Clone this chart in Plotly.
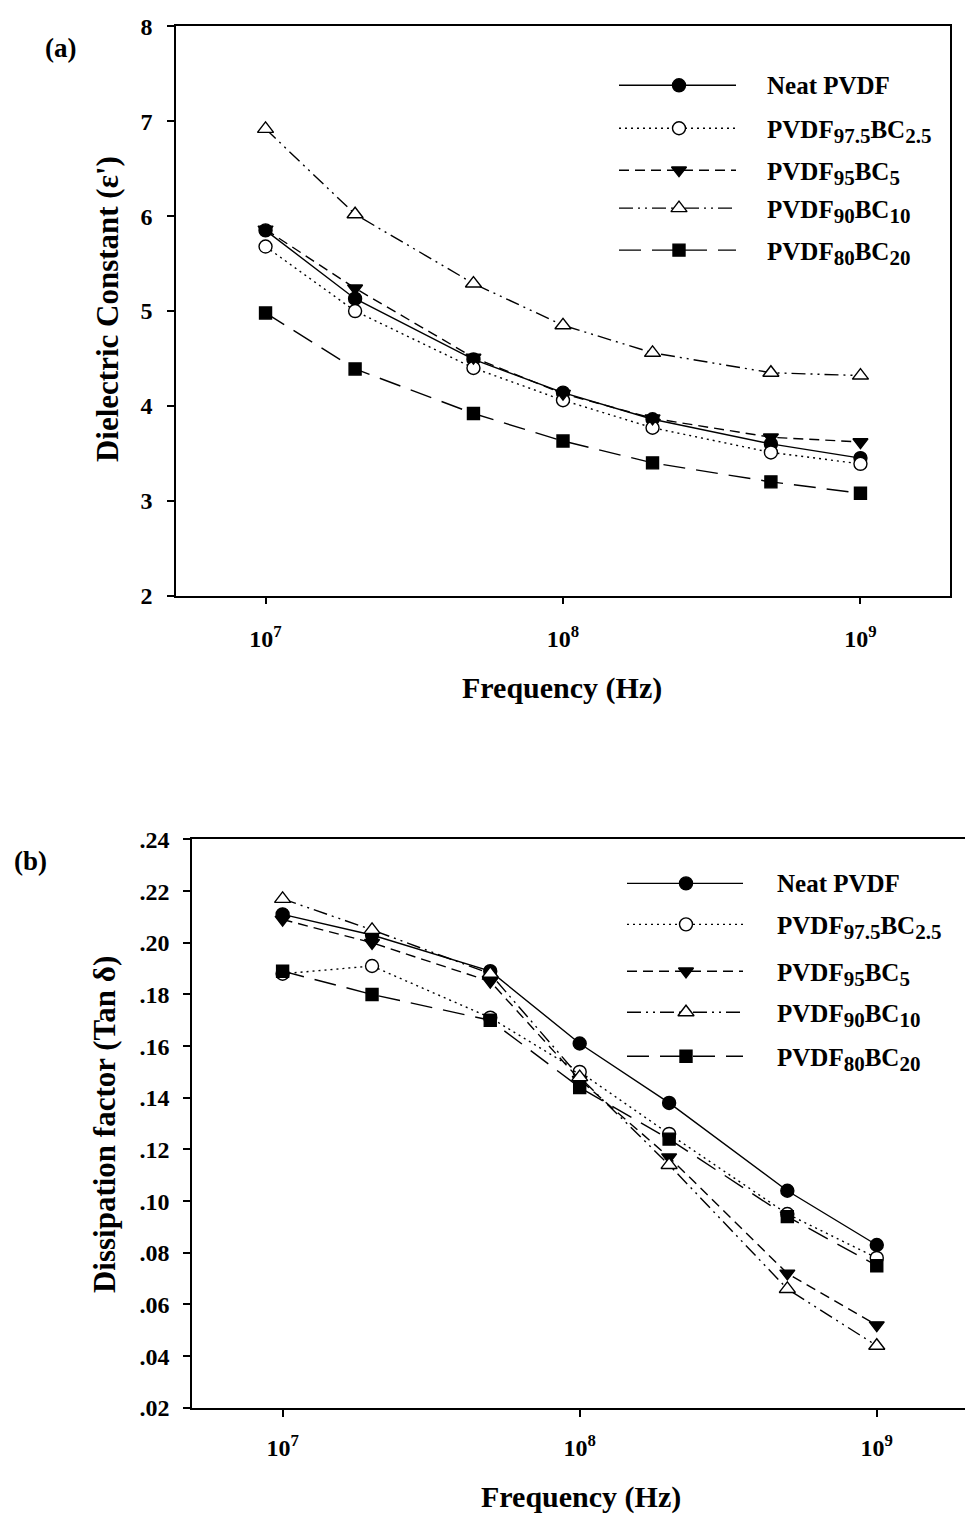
import plotly.graph_objects as go
import math

# ---------------- data ----------------
freq = [1e7, 2e7, 5e7, 1e8, 2e8, 5e8, 1e9]

SUB = '<sub><span style="font-size:21px">{}</span></sub>'
series_names = ["Neat PVDF",
                "PVDF" + SUB.format("97.5") + "BC" + SUB.format("2.5"),
                "PVDF" + SUB.format("95") + "BC" + SUB.format("5"),
                "PVDF" + SUB.format("90") + "BC" + SUB.format("10"),
                "PVDF" + SUB.format("80") + "BC" + SUB.format("20")]

# (a) dielectric constant
eps_neat = [5.85, 5.13, 4.49, 4.14, 3.86, 3.60, 3.45]
eps_975 = [5.68, 5.00, 4.40, 4.06, 3.77, 3.51, 3.39]
eps_95 = [5.86, 5.24, 4.51, 4.13, 3.87, 3.67, 3.62]
eps_90 = [6.92, 6.02, 5.29, 4.85, 4.56, 4.35, 4.32]
eps_80 = [4.98, 4.39, 3.92, 3.63, 3.40, 3.20, 3.08]

# (b) dissipation factor
tan_neat = [0.211, 0.203, 0.189, 0.161, 0.138, 0.104, 0.083]
tan_975 = [0.188, 0.191, 0.171, 0.150, 0.126, 0.095, 0.078]
tan_95 = [0.209, 0.200, 0.185, 0.147, 0.117, 0.072, 0.052]
tan_90 = [0.217, 0.205, 0.188, 0.148, 0.114, 0.066, 0.044]
tan_80 = [0.189, 0.180, 0.170, 0.144, 0.124, 0.094, 0.075]

y_ticks_b = [0.02, 0.04, 0.06, 0.08, 0.10, 0.12, 0.14, 0.16, 0.18, 0.20, 0.22, 0.24]
y_ticktext_b = [".02", ".04", ".06", ".08", ".10", ".12", ".14", ".16", ".18", ".20", ".22", ".24"]
x_tickvals = [1e7, 1e8, 1e9]
x_ticktext = ["10<sup>7</sup>", "10<sup>8</sup>", "10<sup>9</sup>"]

# ---------------- layout helpers ----------------
W, H = 965, 1516
FONT = "Liberation Serif, Times New Roman, serif"


def py(t):
    """target screen y (px from top) -> layout y (px from top)"""
    return (t - 11.6) / 0.984


def dom(top, bottom):
    return [1 - py(bottom) / H, 1 - py(top) / H]


styles = [
    dict(symbol="circle", fill="black", dash="solid"),
    dict(symbol="circle", fill="white", dash="2px,4px"),
    dict(symbol="triangle-down", fill="black", dash="10px,6px"),
    dict(symbol="triangle-up", fill="white", dash="14px,5px,2px,5px,2px,5px"),
    dict(symbol="square", fill="black", dash="22px,11px"),
]
msize = [13, 13, 13, 14, 12]

fig = go.Figure()
data_a = [eps_neat, eps_975, eps_95, eps_90, eps_80]
data_b = [tan_neat, tan_975, tan_95, tan_90, tan_80]

for axes, dataset in ((("x", "y"), data_a), (("x2", "y2"), data_b)):
    for i, vals in enumerate(dataset):
        st = styles[i]
        fig.add_trace(go.Scatter(
            x=freq, y=vals, xaxis=axes[0], yaxis=axes[1], mode="lines+markers",
            line=dict(color="black", width=1.4, dash=st["dash"]),
            marker=dict(symbol=st["symbol"], size=msize[i], color=st["fill"],
                        line=dict(color="black", width=1.4)),
            showlegend=False, hoverinfo="skip"))

# ---------------- manual legends (pixel overlay axes) ----------------
legends = [
    dict(x0=619, x1=736, xm=679, xt=765, rows=[84, 127, 169, 207, 249]),
    dict(x0=627, x1=743, xm=686, xt=775, rows=[883, 924, 971, 1012, 1056]),
]
for lg in legends:
    for i, yy in enumerate(lg["rows"]):
        st = styles[i]
        yl = py(yy)
        fig.add_trace(go.Scatter(
            x=[lg["x0"], lg["x1"]], y=[yl, yl], xaxis="x3", yaxis="y3", mode="lines",
            line=dict(color="black", width=1.4, dash=st["dash"]),
            showlegend=False, hoverinfo="skip"))
        fig.add_trace(go.Scatter(
            x=[lg["xm"]], y=[yl], xaxis="x3", yaxis="y3", mode="markers",
            marker=dict(symbol=st["symbol"], size=msize[i], color=st["fill"],
                        line=dict(color="black", width=1.4)),
            showlegend=False, hoverinfo="skip"))
        fig.add_annotation(
            x=lg["xt"], y=py(yy + (0 if i == 0 else 4)), xref="x3", yref="y3",
            text=series_names[i], showarrow=False, xanchor="left", yanchor="middle",
            font=dict(family=FONT, size=25, color="black", weight="bold"))

# ---------------- titles & panel labels ----------------
texts = [
    (60, 47, "(a)", 0, 27),
    (30, 861, "(b)", 0, 27),
    (562, 687, "Frequency (Hz)", 0, 30),
    (581, 1497, "Frequency (Hz)", 0, 30),
    (107, 308, "Dielectric Constant (\u03b5')", -90, 31),
    (104, 1125, "Dissipation factor (Tan \u03b4)", -90, 31),
]
for (xx, yy, t, ang, sz) in texts:
    fig.add_annotation(x=xx, y=py(yy), xref="x3", yref="y3", text=t, showarrow=False,
                       textangle=ang, xanchor="center", yanchor="middle",
                       font=dict(family=FONT, size=sz, color="black", weight="bold"))

axis_common = dict(showline=True, linecolor="black", linewidth=1.5,
                   ticks="outside", ticklen=7, tickwidth=1.5, tickcolor="black",
                   showgrid=False, zeroline=False,
                   tickfont=dict(family=FONT, size=24, color="black", weight="bold"))

fig.update_layout(
    width=W, height=H, autosize=False,
    margin=dict(l=0, r=0, t=0, b=0),
    paper_bgcolor="white", plot_bgcolor="rgba(0,0,0,0)",
    showlegend=False,
    xaxis=dict(type="log", domain=[176 / W, 950 / W],
               range=[math.log10(5e6), math.log10(2e9)], mirror=True,
               tickvals=x_tickvals, ticktext=x_ticktext, anchor="y",
               ticklabelstandoff=14, **axis_common),
    yaxis=dict(domain=dom(25, 595), range=[2, 8], dtick=1, anchor="x", mirror=True,
               ticklabelstandoff=10, **axis_common),
    xaxis2=dict(type="log", domain=[192 / W, 1.0],
                range=[6.695, 9.297], mirror=True,
                tickvals=x_tickvals, ticktext=x_ticktext, anchor="y2",
                ticklabelstandoff=11, **axis_common),
    yaxis2=dict(domain=dom(839, 1408), range=[0.02, 0.24], mirror=False,
                tickvals=y_ticks_b, ticktext=y_ticktext_b, anchor="x2",
                ticklabelstandoff=9, **axis_common),
    xaxis3=dict(domain=[0, 1], range=[0, W], visible=False, anchor="y3",
                fixedrange=True),
    yaxis3=dict(domain=[0, 1], range=[H, 0], visible=False, anchor="x3",
                fixedrange=True),
)

fig.write_html("out.html")
